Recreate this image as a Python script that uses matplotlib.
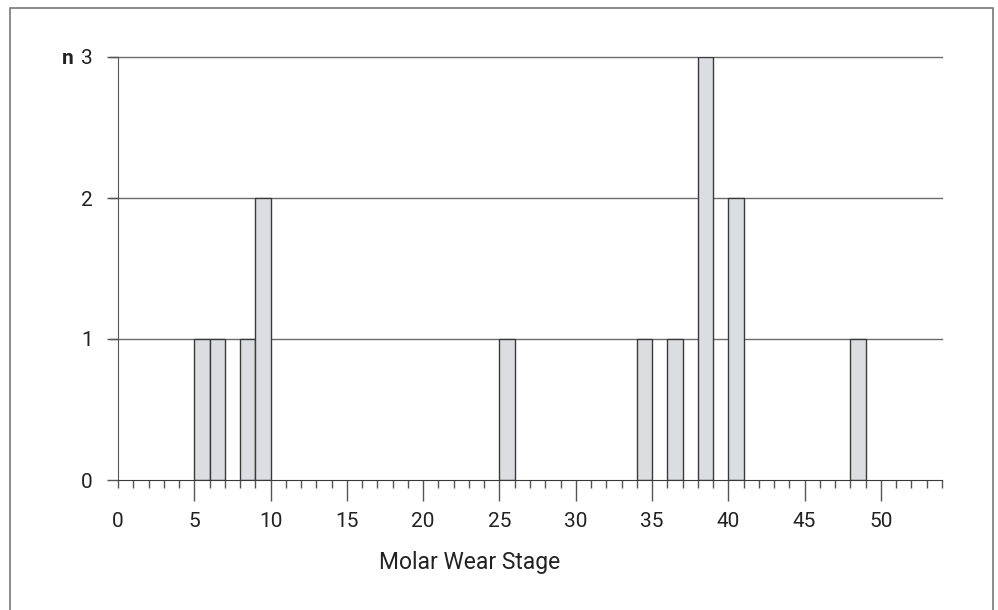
import numpy as np
import matplotlib.pyplot as plt
from matplotlib.patches import Rectangle

plt.rcParams['font.family'] = ['Roboto', 'DejaVu Sans']

# wear stage (left edge of bin) and number of specimens
stages = [5, 6, 8, 9, 25, 34, 36, 38, 40, 48]
counts = [1, 1, 1, 2, 1, 1, 1, 3, 2, 1]
yticks = [0, 1, 2, 3]
xlabels = ['0', '5', '10', '15', '20', '25', '30', '35', '40', '45', '50']

fig = plt.figure(figsize=(9.98, 6.10), dpi=100)
ax = fig.add_axes([118 / 998, 1 - 480 / 610, 824 / 998, 423 / 610])

# grid lines behind bars
for y in yticks[1:]:
    ax.plot([-0.55, 54], [y, y], color='#6b6b6b', lw=1.0, clip_on=False, zorder=1)

ax.bar(stages, counts, width=1.0, align='edge', color='#dcdde0',
       edgecolor='#3a3a3a', linewidth=1.0, zorder=2)

ax.set_xlim(0, 54)
ax.set_ylim(0, 3)
for s in ['top', 'right']:
    ax.spines[s].set_visible(False)
ax.spines['left'].set_color('#555555')
ax.spines['bottom'].set_color('#3a3a3a')

ax.set_xticks(np.arange(0, 51, 5))
ax.set_xticklabels(xlabels)
ax.set_xticks(np.arange(0, 55, 1), minor=True)
ax.tick_params(axis='x', which='major', direction='out', length=15, width=1,
               color='#555555', labelsize=15, pad=8, labelcolor='#222222')
ax.tick_params(axis='x', which='minor', direction='out', length=6, width=1,
               color='#555555')
ax.xaxis.get_major_ticks()[0].tick1line.set_markersize(6)

ax.set_yticks(yticks)
ax.tick_params(axis='y', direction='out', length=8, width=1, color='#555555',
               labelsize=15, pad=10, labelcolor='#222222')

fig.text(0.471, 1 - 563 / 610, 'Molar Wear Stage', ha='center', va='center',
         fontsize=16.5, color='#222222')
fig.text(68 / 998, 1 - 59 / 610, 'n', ha='center', va='center', fontsize=15,
         fontweight='bold', color='#222222')

# outer frame
fig.patches.append(Rectangle((10 / 998, -0.05), 983 / 998, 1 - 8 / 610 + 0.05,
                             transform=fig.transFigure, fill=False,
                             edgecolor='#777777', lw=1.2))

fig.savefig('out.png', dpi=100)
